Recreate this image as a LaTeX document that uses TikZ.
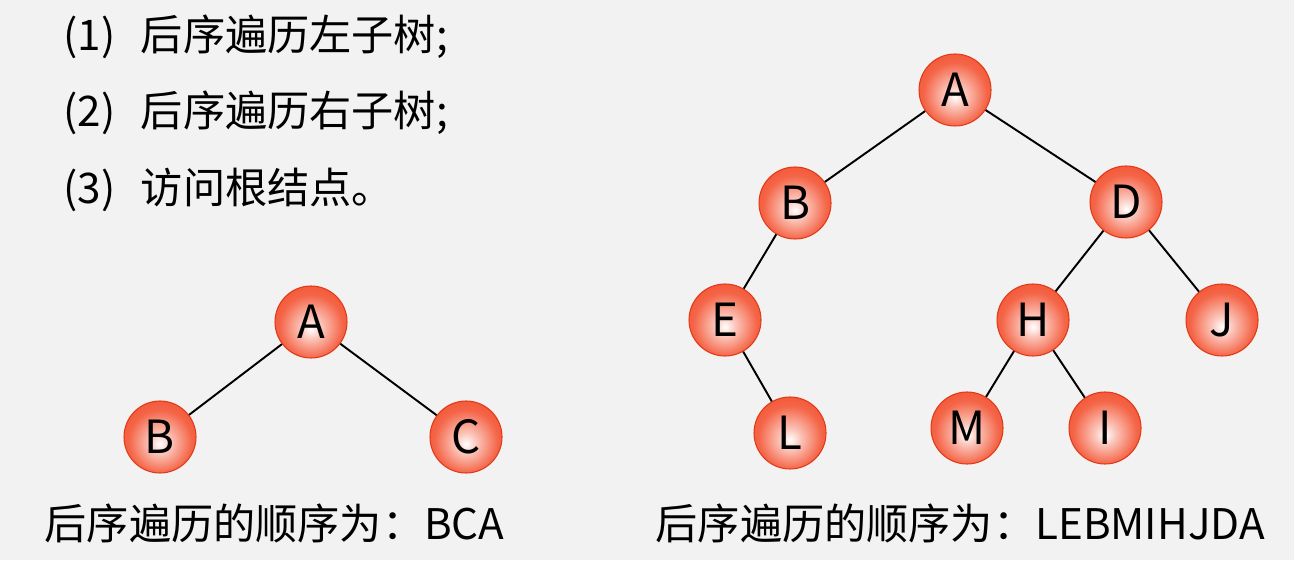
\documentclass[tikz,border=0pt]{standalone}
\usepackage{fontspec}
\setmainfont{Noto Sans CJK SC}
\usetikzlibrary{positioning}
\definecolor{bgcol}{HTML}{F2F2F2}
\definecolor{ballred}{HTML}{F2431F}
\definecolor{ballrim}{HTML}{E03A18}
\pgfdeclareradialshading{redball}{\pgfpoint{0bp}{-5bp}}{color(0bp)=(white); color(7bp)=(white!70!ballred); color(22bp)=(white!18!ballred); color(40bp)=(ballred); color(56bp)=(ballrim)}

\begin{document}
\begin{tikzpicture}[x=1cm,y=1cm,
  tnode/.style={circle,shading=redball,draw=ballrim,line width=0.3pt,minimum size=0.72cm,inner sep=0pt,font=\fontsize{13}{15}\selectfont},
  tline/.style={draw=black,line width=0.55pt},
  txt/.style={anchor=west,inner sep=0pt,font=\fontsize{12}{14}\selectfont}]
\fill[bgcol] (0,0) rectangle (12.94,5.60);
\useasboundingbox (0,0) rectangle (12.94,5.60);
% steps
\node[txt] (s1) at (0.63,5.23) {(1)\hspace{0.6em}后序遍历左子树;};
\node[txt] (s2) at (0.63,4.47) {(2)\hspace{0.6em}后序遍历右子树;};
\node[txt] (s3) at (0.63,3.70) {(3)\hspace{0.6em}访问根结点。};
% small tree
\node[tnode] (la) at (3.11,2.38) {A};
\node[tnode] (lb) at (1.60,1.23) {B};
\node[tnode] (lc) at (4.66,1.23) {C};
\draw[tline] (la)--(lb);
\draw[tline] (la)--(lc);
% big tree
\node[tnode] (ra) at (9.55,4.70) {A};
\node[tnode] (rb) at (7.95,3.57) {B};
\node[tnode] (rd) at (11.26,3.58) {D};
\node[tnode] (re) at (7.25,2.40) {E};
\node[tnode] (rh) at (10.33,2.40) {H};
\node[tnode] (rj) at (12.22,2.40) {J};
\node[tnode] (rl) at (7.90,1.27) {L};
\node[tnode] (rm) at (9.67,1.32) {M};
\node[tnode] (ri) at (11.05,1.32) {I};
\draw[tline] (ra)--(rb);
\draw[tline] (ra)--(rd);
\draw[tline] (rb)--(re);
\draw[tline] (re)--(rl);
\draw[tline] (rd)--(rh);
\draw[tline] (rd)--(rj);
\draw[tline] (rh)--(rm);
\draw[tline] (rh)--(ri);
% results
\node[txt] (res1) at (0.44,0.37) {后序遍历的顺序为：BCA};
\node[txt] (res2) at (6.55,0.37) {后序遍历的顺序为：LEBMIHJDA};
\end{tikzpicture}
\end{document}
